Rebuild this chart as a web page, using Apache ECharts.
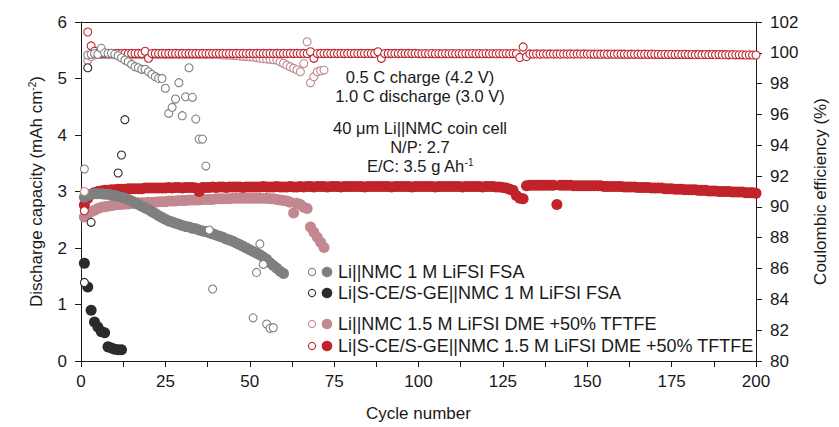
<!DOCTYPE html>
<html>
<head>
<meta charset="utf-8">
<script src="https://cdn.jsdelivr.net/npm/echarts@6/dist/echarts.min.js"></script>
<style>
  html, body { margin: 0; padding: 0; background: #ffffff; }
  #chart { width: 839px; height: 427px; }
</style>
</head>
<body>
<div id="chart"></div>
<script>
// ---- Cycling data (cycle number starts at 1) ----

// Li|S-CE/S-GE||NMC, 1.5 M LiFSI DME +50% TFTFE
const redCapacity = [
  2.76,2.88,2.95,2.98,3.00,3.01,3.02,3.02,3.03,3.03,
  3.04,3.04,3.04,3.05,3.05,3.05,3.05,3.05,3.06,3.06,
  3.06,3.06,3.06,3.06,3.06,3.07,3.06,3.07,3.07,3.06,
  3.07,3.07,3.07,3.06,3.00,3.07,3.07,3.07,3.08,3.07,
  3.08,3.08,3.07,3.08,3.08,3.08,3.08,3.07,3.08,3.08,
  3.08,3.08,3.08,3.09,3.08,3.08,3.08,3.09,3.08,3.08,
  3.08,3.09,3.08,3.08,3.09,3.08,3.09,3.09,3.08,3.09,
  3.09,3.09,3.08,3.09,3.09,3.09,3.08,3.09,3.09,3.09,
  3.09,3.09,3.09,3.08,3.09,3.09,3.09,3.09,3.09,3.09,
  3.09,3.08,3.09,3.09,3.09,3.09,3.09,3.08,3.09,3.09,
  3.09,3.09,3.09,3.09,3.08,3.09,3.09,3.09,3.09,3.09,
  3.09,3.09,3.08,3.09,3.09,3.09,3.09,3.09,3.08,3.09,
  3.09,3.09,3.08,3.08,3.07,3.06,3.04,3.02,2.93,2.88,
  2.87,3.10,3.11,3.11,3.11,3.11,3.11,3.11,3.11,3.11,
  2.77,3.11,3.11,3.11,3.11,3.10,3.10,3.10,3.10,3.10,
  3.10,3.10,3.10,3.10,3.09,3.09,3.09,3.09,3.09,3.09,
  3.08,3.08,3.08,3.08,3.07,3.07,3.07,3.07,3.06,3.06,
  3.06,3.06,3.05,3.05,3.05,3.04,3.04,3.04,3.03,3.03,
  3.03,3.03,3.02,3.02,3.02,3.01,3.01,3.01,3.00,3.00,
  3.00,3.00,2.99,2.99,2.99,2.99,2.98,2.98,2.98,2.97
];
const redCE = [
  89.75,101.35,100.45,100.10,99.96,99.95,99.96,99.95,99.96,99.95,
  99.96,99.95,99.96,99.95,99.96,99.95,99.96,99.95,100.10,99.65,
  99.95,99.96,99.95,99.96,99.95,99.96,99.95,99.96,99.95,99.96,
  99.95,99.96,99.95,99.96,99.95,99.96,99.95,99.96,99.95,99.96,
  99.95,99.96,99.95,99.96,99.95,99.96,99.95,99.96,99.95,99.96,
  99.95,99.96,99.95,99.96,99.95,99.96,99.95,99.96,99.95,99.96,
  99.95,99.96,99.95,99.96,99.95,99.96,99.95,100.07,99.64,99.95,
  99.96,99.95,99.96,99.95,99.96,99.95,99.96,99.95,99.96,99.95,
  99.96,99.95,99.96,99.95,99.96,99.95,99.96,100.07,99.64,99.95,
  99.96,99.95,99.96,99.95,99.96,99.95,99.96,99.95,99.96,99.95,
  99.94,99.95,99.94,99.95,99.94,99.95,99.94,99.95,99.94,99.95,
  99.94,99.95,99.94,99.95,99.94,99.95,99.94,99.95,99.94,99.95,
  99.94,99.95,99.94,99.95,99.94,99.95,99.94,99.95,99.94,99.70,
  100.38,99.75,99.93,99.92,99.93,99.92,99.93,99.92,99.93,99.92,
  99.93,99.92,99.93,99.92,99.93,99.92,99.93,99.92,99.93,99.92,
  99.92,99.91,99.92,99.91,99.92,99.91,99.92,99.91,99.92,99.91,
  99.91,99.90,99.91,99.90,99.91,99.90,99.91,99.90,99.91,99.90,
  99.90,99.89,99.90,99.89,99.90,99.89,99.90,99.89,99.90,99.89,
  99.89,99.88,99.89,99.88,99.89,99.88,99.89,99.88,99.89,99.88,
  99.88,99.87,99.88,99.87,99.87,99.87,99.86,99.87,99.86,99.86
];

// Li||NMC, 1.5 M LiFSI DME +50% TFTFE
const pinkCapacity = [
  2.55,2.60,2.64,2.67,2.70,2.72,2.73,2.74,2.75,2.76,
  2.77,2.77,2.78,2.78,2.79,2.79,2.80,2.80,2.80,2.81,
  2.81,2.81,2.82,2.82,2.82,2.83,2.83,2.83,2.84,2.84,
  2.84,2.85,2.85,2.85,2.85,2.86,2.86,2.86,2.86,2.87,
  2.87,2.87,2.87,2.87,2.88,2.88,2.88,2.88,2.88,2.88,
  2.88,2.88,2.88,2.88,2.88,2.87,2.87,2.86,2.85,2.84,
  2.83,2.81,2.62,2.79,2.77,2.72,2.70,2.37,2.28,2.19,
  2.10,2.01
];
const pinkCE = [
  91.00,99.50,99.75,99.85,99.88,99.90,99.90,99.88,99.90,99.88,
  99.88,99.90,99.88,99.90,99.88,99.88,99.90,99.88,99.90,99.88,
  99.88,99.90,99.88,99.90,99.88,99.88,99.90,99.88,99.90,99.88,
  99.88,99.90,99.88,99.90,99.88,99.88,99.90,99.88,99.90,99.88,
  99.88,99.86,99.86,99.85,99.84,99.82,99.80,99.78,99.76,99.74,
  99.72,99.70,99.65,99.62,99.60,99.58,99.56,99.53,99.42,99.32,
  99.20,99.10,99.00,98.90,98.77,99.30,100.72,98.06,98.45,98.77,
  98.84,98.88
];

// Li||NMC, 1 M LiFSI FSA
const greyCapacity = [
  2.90,2.93,2.95,2.96,2.96,2.96,2.95,2.95,2.94,2.93,
  2.91,2.90,2.88,2.86,2.83,2.80,2.77,2.74,2.71,2.68,
  2.64,2.61,2.57,2.54,2.51,2.48,2.46,2.44,2.42,2.40,
  2.38,2.37,2.35,2.34,2.32,2.30,2.29,2.27,2.25,2.23,
  2.21,2.19,2.16,2.14,2.12,2.09,2.06,2.03,2.00,1.97,
  1.94,1.91,1.88,1.84,1.80,1.74,1.69,1.64,1.59,1.55
];
const greyCECycles = [
  1,2,3,4,5,6,7,8,9,10,11,12,13,14,15,16,17,18,19,20,
  21,22,23,24,25,26,27,28,29,30,31,32,33,34,35,36,37,38,39,
  51,52,53,54,55,56,57
];
const greyCE = [
  92.46,99.86,99.90,99.95,99.90,100.29,100.00,99.97,99.97,99.90,
  99.81,99.68,99.53,99.42,99.25,99.10,99.03,98.93,98.93,98.77,
  98.60,98.45,98.34,98.34,97.70,96.07,96.46,97.00,98.06,95.92,
  97.15,99.03,97.11,95.70,94.40,94.40,92.65,88.50,84.67,
  82.80,85.75,87.60,86.27,82.40,82.12,82.16
];

// Li|S-CE/S-GE||NMC, 1 M LiFSI FSA
const darkCapacity = [1.73,1.31,0.90,0.69,0.60,0.52,0.50,0.25,0.23,0.21,0.20,0.20];
const darkCECycles = [1,2,3,11,12,13];
const darkCE = [85.10,99.03,89.00,92.20,93.37,95.66];

const legendNames = [
  'Li||NMC 1 M LiFSI FSA',
  'Li|S-CE/S-GE||NMC 1 M LiFSI FSA',
  'Li||NMC 1.5 M LiFSI DME +50% TFTFE',
  'Li|S-CE/S-GE||NMC 1.5 M LiFSI DME +50% TFTFE'
];

// ---- Colours ----
const GREY = '#7f7f7f';
const DARK = '#2b2b2b';
const PINK = '#c3878f';
const RED = '#c1232b';
const TEXT = '#1a1a1a';

const bySeq = vals => vals.map((v, i) => [i + 1, v]);
const byPairs = (cycles, vals) => cycles.map((c, i) => [c, vals[i]]);

function filled(name, data, color) {
  return {
    name, type: 'scatter', xAxisIndex: 0, yAxisIndex: 0,
    data, symbol: 'circle', symbolSize: 11,
    itemStyle: { color, opacity: 1 },
    emphasis: { disabled: true }, silent: true
  };
}
function ring(name, data, color) {
  return {
    name, type: 'scatter', xAxisIndex: 0, yAxisIndex: 1,
    data, symbol: 'circle', symbolSize: 8,
    itemStyle: { color: '#ffffff', borderColor: color, borderWidth: 1.1, opacity: 1 },
    emphasis: { disabled: true }, silent: true
  };
}

const FONT = 'Liberation Sans, Arial, sans-serif';

// ---- Legend (ring + dot + label per row) ----
const legendRows = [
  { y: 272, ring: GREY, dot: GREY },
  { y: 293, ring: DARK, dot: DARK },
  { y: 324, ring: PINK, dot: PINK },
  { y: 346, ring: RED, dot: RED }
];
const legendGraphics = [];
legendRows.forEach((row, i) => {
  legendGraphics.push({
    type: 'circle', shape: { cx: 312, cy: row.y, r: 3.6 },
    style: { fill: '#fff', stroke: row.ring, lineWidth: 1.1 }, z: 100
  });
  legendGraphics.push({
    type: 'circle', shape: { cx: 327, cy: row.y, r: 5.3 },
    style: { fill: row.dot }, z: 100
  });
  legendGraphics.push({
    type: 'text', x: 338, y: row.y,
    style: { text: legendNames[i], fill: TEXT, font: '18px ' + FONT, textVerticalAlign: 'middle', textAlign: 'left' },
    z: 100
  });
});

// ---- Test-condition notes ----
const notes = [
  { y: 77, text: '0.5 C charge (4.2 V)' },
  { y: 96, text: '1.0 C discharge (3.0 V)' },
  { y: 128, text: '40 μm Li||NMC coin cell' },
  { y: 147, text: 'N/P: 2.7' }
];
const noteGraphics = notes.map(n => ({
  type: 'text', x: 420, y: n.y,
  style: { text: n.text, fill: TEXT, font: '16.5px ' + FONT, textAlign: 'center', textVerticalAlign: 'middle' },
  z: 100
}));
noteGraphics.push({
  type: 'text', x: 420, y: 166,
  style: {
    text: 'E/C: 3.5 g Ah{sup|-1}',
    rich: { sup: { fontSize: 10, verticalAlign: 'top', padding: [0, 0, 8, 0], fill: TEXT, fontFamily: FONT } },
    fill: TEXT, font: '16.5px ' + FONT, align: 'center', verticalAlign: 'middle'
  },
  z: 100
});

const chart = echarts.init(document.getElementById('chart'), null, { renderer: 'svg' });

const axisLineStyle = { color: '#1a1a1a', width: 1 };
const labelStyle = { color: TEXT, fontSize: 17, fontFamily: FONT };

chart.setOption({
  animation: false,
  backgroundColor: '#ffffff',
  grid: { left: 81, right: 83, top: 22, bottom: 66, containLabel: false },
  xAxis: [
    {
      type: 'value', min: 0, max: 200, interval: 25,
      name: 'Cycle number', nameLocation: 'middle', nameGap: 44,
      nameTextStyle: { color: TEXT, fontSize: 17, fontFamily: FONT },
      axisLine: { show: true, onZero: false, lineStyle: axisLineStyle },
      axisTick: { show: true, length: 6, lineStyle: axisLineStyle },
      minorTick: { show: true, splitNumber: 2, length: 6, lineStyle: axisLineStyle },
      axisLabel: Object.assign({ margin: 12 }, labelStyle),
      splitLine: { show: false }
    },
    {
      type: 'value', min: 0, max: 200, position: 'top',
      axisLine: { show: true, onZero: false, lineStyle: axisLineStyle },
      axisTick: { show: false }, axisLabel: { show: false }, splitLine: { show: false }
    }
  ],
  yAxis: [
    {
      type: 'value', min: 0, max: 6, interval: 1,
      name: 'Discharge capacity (mAh cm{sup|-2})', nameLocation: 'middle', nameGap: 36, nameRotate: 90,
      nameTextStyle: {
        color: TEXT, fontSize: 17, fontFamily: FONT,
        rich: { sup: { fontSize: 10, fontFamily: FONT, color: TEXT, verticalAlign: 'top', padding: [0, 0, 8, 0] } }
      },
      axisLine: { show: true, onZero: false, lineStyle: axisLineStyle },
      axisTick: { show: true, length: 6, lineStyle: axisLineStyle },
      axisLabel: Object.assign({ margin: 14 }, labelStyle),
      splitLine: { show: false }
    },
    {
      type: 'value', min: 80, max: 102, interval: 2, position: 'right',
      name: 'Coulombic efficiency (%)', nameLocation: 'middle', nameGap: 56, nameRotate: 90,
      nameTextStyle: { color: TEXT, fontSize: 17, fontFamily: FONT },
      axisLine: { show: true, onZero: false, lineStyle: axisLineStyle },
      axisTick: { show: true, length: 6, lineStyle: axisLineStyle },
      axisLabel: Object.assign({ margin: 14 }, labelStyle),
      splitLine: { show: false }
    }
  ],
  series: [
    filled(legendNames[2], bySeq(pinkCapacity), PINK),
    filled(legendNames[3], bySeq(redCapacity), RED),
    filled(legendNames[0], bySeq(greyCapacity), GREY),
    filled(legendNames[1], bySeq(darkCapacity), DARK),
    ring(legendNames[2] + ' CE', bySeq(pinkCE), PINK),
    ring(legendNames[3] + ' CE', bySeq(redCE), RED),
    ring(legendNames[0] + ' CE', byPairs(greyCECycles, greyCE), GREY),
    ring(legendNames[1] + ' CE', byPairs(darkCECycles, darkCE), DARK)
  ],
  graphic: legendGraphics.concat(noteGraphics)
});
</script>
</body>
</html>
